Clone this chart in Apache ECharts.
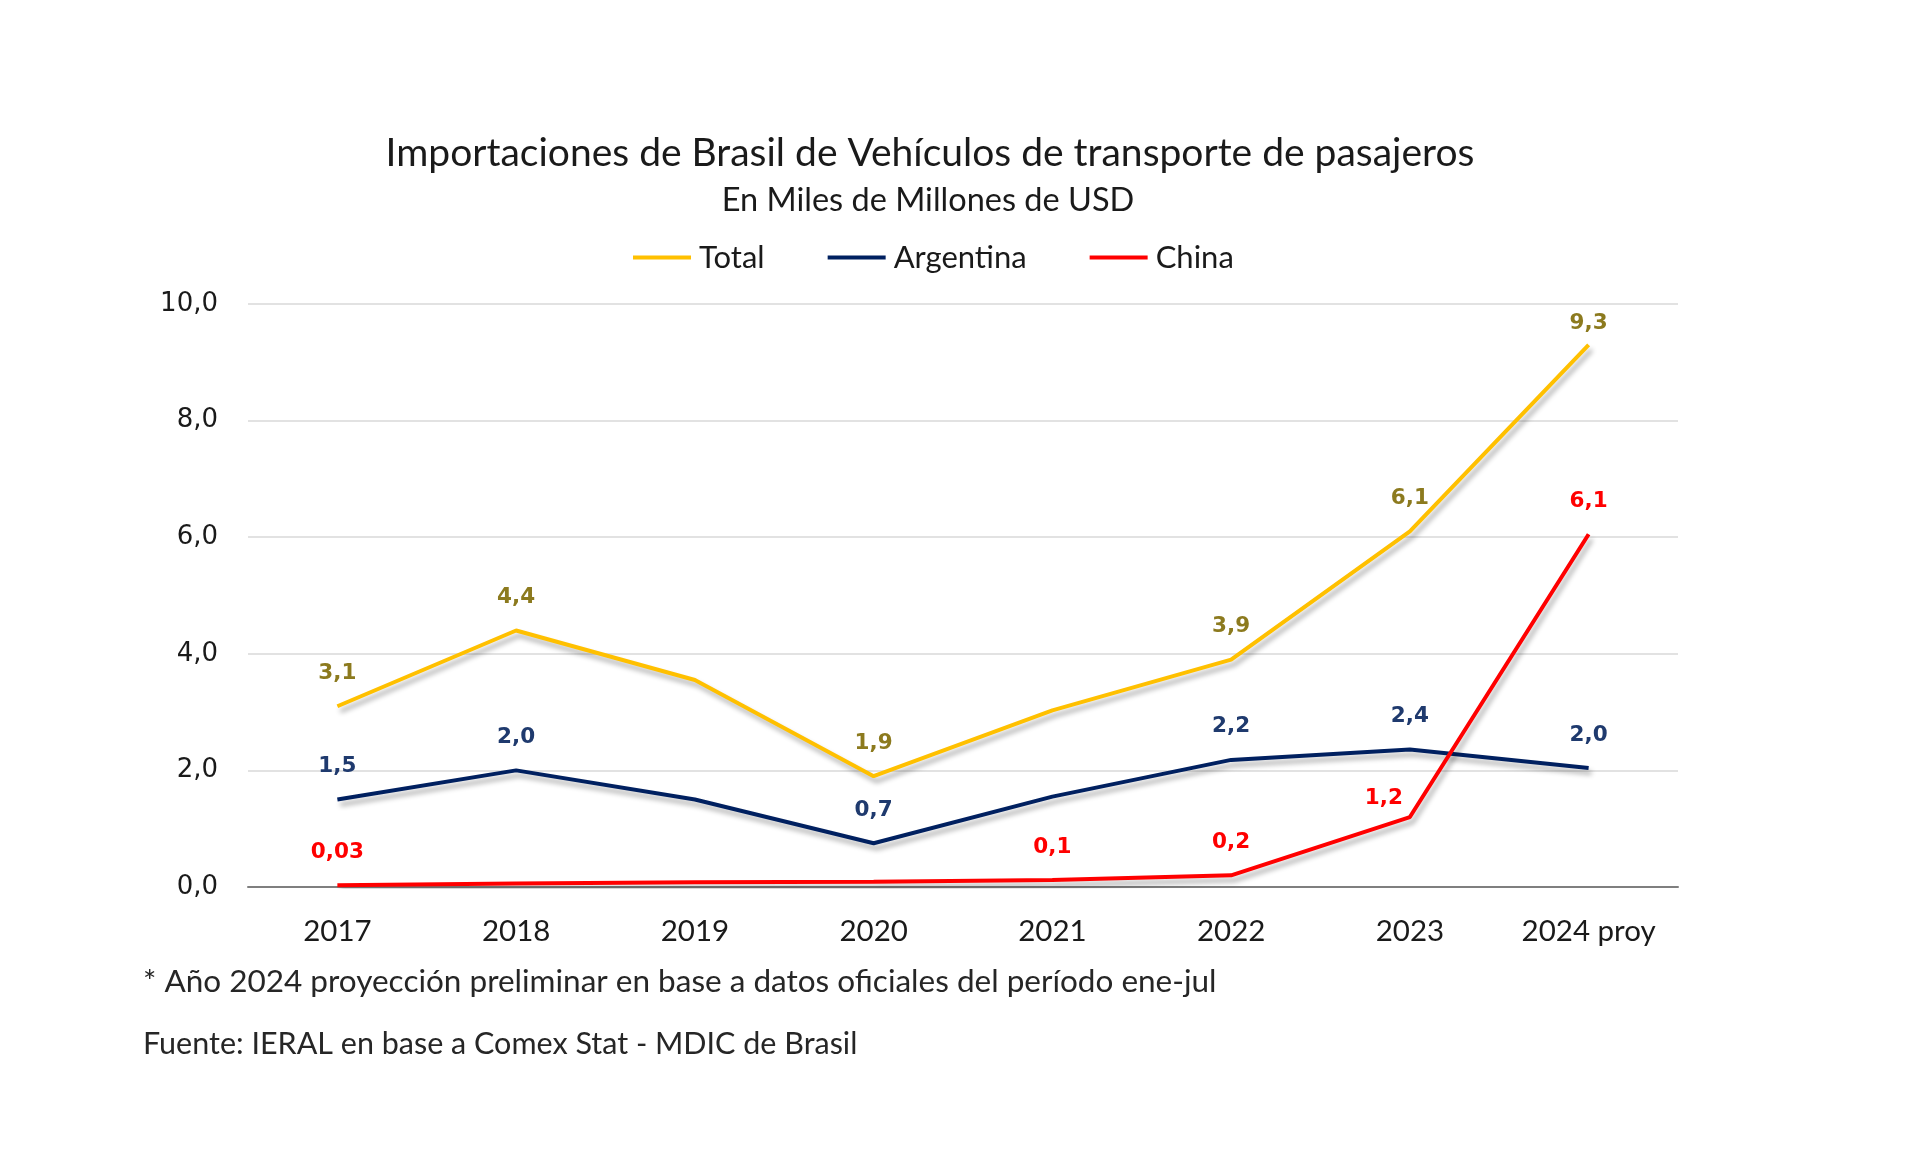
<!DOCTYPE html>
<html>
<head>
<meta charset="utf-8">
<script src="https://cdn.jsdelivr.net/npm/echarts@6/dist/echarts.min.js"></script>
<style>
html,body{margin:0;padding:0;background:#fff;}
#chart{width:1920px;height:1157px;}
</style>
</head>
<body>
<div id="chart"></div>
<script>
const categories = ['2017','2018','2019','2020','2021','2022','2023','2024 proy'];
const totalValues = [3.1, 4.4, 3.55, 1.9, 3.03, 3.9, 6.1, 9.3];
const argentinaValues = [1.5, 2.0, 1.5, 0.75, 1.55, 2.18, 2.36, 2.04];
const chinaValues = [0.03, 0.06, 0.08, 0.09, 0.12, 0.2, 1.2, 6.05];
const totalLabels = ['3,1','4,4',null,'1,9',null,'3,9','6,1','9,3'];
const argentinaLabels = ['1,5','2,0',null,'0,7',null,'2,2','2,4','2,0'];
const chinaLabels = ['0,03',null,null,null,'0,1','0,2','1,2','6,1'];
const yTicks = {min: 0, max: 10, interval: 2};

const FONT = 'Lato, "Open Sans", sans-serif';
const VFONT = '"DejaVu Sans", Verdana, sans-serif';

function buildData(values, labels, color, offsets) {
  return values.map((v, i) => {
    const d = {value: v};
    if (labels[i] !== null) {
      d.label = {
        show: true,
        position: 'top',
        distance: 22,
        formatter: labels[i],
        color: color,
        fontFamily: VFONT,
        fontWeight: 'bold',
        fontSize: 21.5
      };
      if (offsets && offsets[i]) d.label.offset = offsets[i];
    } else {
      d.label = {show: false};
    }
    return d;
  });
}

const shadow = {shadowColor: 'rgba(0,0,0,0.30)', shadowBlur: 5, shadowOffsetX: 3, shadowOffsetY: 5};

const chart = echarts.init(document.getElementById('chart'), null, {renderer: 'canvas'});
chart.setOption({
  backgroundColor: '#ffffff',
  animation: false,
  title: [
    {text: 'Importaciones de Brasil de Vehículos de transporte de pasajeros', left: 925, top: 129, textAlign: 'center',
     textStyle: {fontFamily: FONT, fontWeight: 'normal', fontSize: 39, color: '#1a1a1a'}},
    {text: 'En Miles de Millones de USD', left: 923, top: 179, textAlign: 'center',
     textStyle: {fontFamily: FONT, fontWeight: 'normal', fontSize: 32.5, color: '#1a1a1a'}},
    {text: '* Año 2024 proyección preliminar en base a datos oficiales del período ene-jul', left: 138, top: 961,
     textStyle: {fontFamily: FONT, fontWeight: 'normal', fontSize: 31.5, color: '#262626'}},
    {text: 'Fuente: IERAL en base a Comex Stat - MDIC de Brasil', left: 138, top: 1024,
     textStyle: {fontFamily: FONT, fontWeight: 'normal', fontSize: 30.5, color: '#262626'}}
  ],
  legend: {
    left: 628, top: 237,
    itemWidth: 58, itemHeight: 4, itemGap: 63,
    icon: 'rect',
    textStyle: {fontFamily: FONT, fontSize: 31, color: '#1a1a1a', padding: [0, 0, 0, 3]},
    data: ['Total','Argentina','China']
  },
  grid: {left: 248, right: 242, top: 304, bottom: 270, containLabel: false},
  xAxis: {
    type: 'category',
    data: categories,
    boundaryGap: true,
    axisLine: {lineStyle: {color: '#7f7f7f', width: 2}},
    axisTick: {show: false},
    axisLabel: {fontFamily: FONT, fontSize: 29.5, color: '#1a1a1a', margin: 29}
  },
  yAxis: {
    type: 'value',
    min: yTicks.min, max: yTicks.max, interval: yTicks.interval,
    axisLine: {show: false},
    axisTick: {show: false},
    splitLine: {lineStyle: {color: '#d9d9d9', width: 1.5}},
    axisLabel: {fontFamily: VFONT, fontSize: 26, color: '#1a1a1a', margin: 30,
      formatter: v => v.toFixed(1).replace('.', ',')}
  },
  series: [
    {name: 'Total', type: 'line', data: buildData(totalValues, totalLabels, '#8c7a1e', {7: [0, 12]}),
     color: '#ffc000', symbol: 'circle', symbolSize: 0, showSymbol: true,
     lineStyle: Object.assign({color: '#ffc000', width: 4}, shadow), z: 3},
    {name: 'Argentina', type: 'line', data: buildData(argentinaValues, argentinaLabels, '#1f3a6e'),
     color: '#002060', symbol: 'circle', symbolSize: 0, showSymbol: true,
     lineStyle: Object.assign({color: '#002060', width: 4}, shadow), z: 2},
    {name: 'China', type: 'line', data: buildData(chinaValues, chinaLabels, '#ff0000', {6: [-26, 14]}),
     color: '#ff0000', symbol: 'circle', symbolSize: 0, showSymbol: true,
     lineStyle: Object.assign({color: '#ff0000', width: 4}, shadow), z: 4}
  ]
});
</script>
</body>
</html>
